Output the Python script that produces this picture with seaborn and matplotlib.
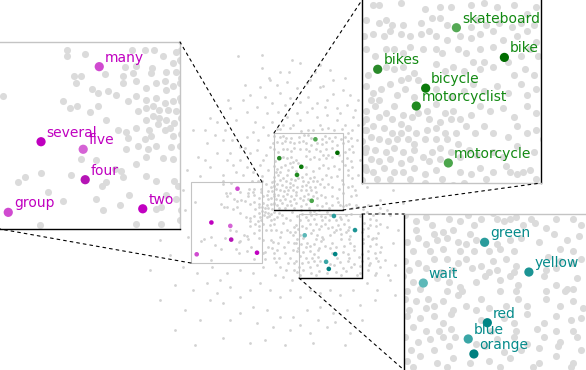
import matplotlib
matplotlib.use("Agg")
import matplotlib.pyplot as plt
from matplotlib.patches import Rectangle, ConnectionPatch
import pandas as pd
import seaborn as sns

# ---------------------------------------------------------------- data
# background embedding cloud (2-D coordinates)
cloud_pts = [
    # around the "numbers" cluster
    (223, 181), (223, 184), (231, 183), (252, 181), (258, 181), (262, 181), (272, 182), (266, 184), (270.5, 187),
    (273.5, 185.6), (240, 192), (249, 189), (254, 188.6), (261, 189.4), (267.5, 191), (272, 191), (226, 193),
    (229.5, 193), (227, 196), (248, 193), (252.6, 191.6), (260.5, 191.6), (194.5, 201.7), (234.4, 198.8),
    (237, 200.5), (241.4, 199.8), (245.2, 201.3), (248, 196), (254, 195.3), (258.6, 198.3), (263, 196),
    (266.8, 195.3), (270.5, 197.6), (273.5, 196), (267.5, 199), (221.3, 204), (224.3, 207.2), (227.3, 206.5),
    (233.2, 209.2), (237, 206.5), (250.4, 204.3), (254, 202), (258.6, 203.5), (263, 202.8), (266.8, 205),
    (270.5, 204.3), (273.5, 202.8), (272, 208.7), (268.2, 208), (264.5, 208), (261.5, 206.5), (258.6, 207.2),
    (254.8, 208.7), (240.4, 212.5), (245.9, 217.2), (249.6, 218.1), (250.4, 220.7), (254, 216.2), (258.6, 212.5),
    (261.5, 211), (264.5, 211.7), (267.5, 212.5), (271.2, 214), (274.2, 211.7), (260, 217), (263.8, 214.7),
    (266.8, 217), (270.5, 219.9), (274.2, 219.2), (269, 216.2), (257.8, 221.4), (260.8, 219.9), (254.8, 224.4),
    (259.3, 225.9), (263, 224.4), (269.7, 225.1), (273.5, 224.4), (249.6, 225.9), (229.5, 230.3), (236.2, 230.6),
    (244.4, 234.8), (247.4, 235.6), (253.8, 232.6), (258.6, 229.6), (266, 230), (270.5, 230.3), (204.2, 238.5),
    (201.2, 240.8), (211.3, 236.7), (225, 237.5), (240.4, 240.8), (238.9, 242.3), (248, 238.5), (258.6, 237.8),
    (271.2, 240), (272.7, 242.3), (263, 240), (214.6, 245), (236.2, 248.5), (246.6, 251.2), (251, 246.7),
    (267.5, 246.7), (272, 248.2), (265.3, 251.9), (263, 252.7), (221.3, 249), (239.2, 253.4), (210.9, 260.1),
    (254, 259.4), (265.3, 259.4), (273.5, 257.9), (274.2, 253.4),
    # around the "vehicles" cluster
    (277, 129), (280, 129), (290, 128), (301, 131), (308, 130), (313, 130), (322, 129), (328, 128), (334, 130),
    (342, 129), (348, 133), (352, 130), (274, 136), (280, 137), (283, 136), (286, 138), (291, 138), (299, 137),
    (304, 135), (308, 135), (311, 138), (322, 139), (325, 136), (329, 138), (335, 137), (341, 139), (345, 137),
    (351, 138), (273, 143), (277, 142), (282, 143), (285, 141), (290, 142), (294, 143), (299, 142), (303, 141),
    (306, 143), (311, 145), (317, 143), (322, 144), (326, 142), (332, 141), (337, 145), (343, 143), (348, 141),
    (352, 146), (274, 149), (278, 152), (283, 149), (287, 149), (291, 151), (294, 148), (300, 149), (306, 149),
    (309, 151), (316, 149), (320, 151), (326, 149), (332, 148), (328, 155), (345, 152), (349, 149), (353, 152),
    (275, 161), (283, 157), (287, 158), (291, 157), (296, 160), (306, 156), (310, 159), (314, 157), (319, 159),
    (323, 155), (326, 158), (332, 157), (339, 155), (342, 161), (347, 158), (351, 161), (290, 163), (293, 162),
    (298, 163), (274, 166), (277, 169), (281, 167), (285, 165), (288, 170), (292, 167), (296, 171), (306, 167),
    (313, 171), (319, 168), (323, 165), (328, 168), (334, 166), (339, 169), (345, 165), (348, 170), (352, 167),
    (280, 172), (276, 172), (274, 177), (278, 175), (283, 178), (287, 175), (291, 179), (302, 177), (306, 174),
    (310, 178), (314, 177), (317, 181), (322, 179), (326, 175), (331, 177), (337, 176), (342, 180), (348, 175),
    (352, 178), (274, 181), (280, 180), (286, 181), (290, 183), (295, 180), (298, 178), (303, 181), (308, 182),
    (313, 181), (274, 186), (277, 184), (282, 185), (286, 187), (290, 187), (293, 185), (297, 187), (302, 186),
    (306, 185), (310, 187), (315, 187), (320, 184), (324, 187), (328, 184), (332, 187), (339, 189), (343, 184),
    (348, 187), (352, 186), (276, 189), (280, 190), (284, 191), (288, 190), (293, 190), (296, 192), (301, 190),
    (306, 190), (311, 190), (316, 192), (274, 194), (278, 195), (283, 196), (287, 194), (291, 196), (296, 195),
    (300, 198), (304, 196), (308, 194), (313, 196), (317, 198), (321, 195), (325, 197), (332, 196), (337, 198),
    (343, 193), (351, 196), (276, 199), (280, 200), (285, 199), (290, 201), (294, 199), (303, 200), (308, 199),
    (274, 204), (277, 205), (282, 203), (287, 205), (291, 205), (296, 203), (301, 206), (306, 204), (317, 205),
    (322, 206), (326, 203), (332, 205), (338, 202), (343, 206), (349, 204), (352, 208), (279, 208), (285, 208),
    (294, 208), (309, 208), (329, 208),
    # around the "colours" cluster
    (340, 205), (346, 205), (356, 205), (363, 209), (368, 205), (376, 205), (380, 208), (301, 210), (310, 212),
    (314, 211), (319, 210), (327, 212), (297, 216), (302, 214), (306, 217), (311, 215), (316, 214), (321, 216),
    (325, 217), (330, 215), (340, 217), (346, 215), (351, 214), (360, 216), (367, 212), (373, 215), (379, 213),
    (300, 220), (308, 220), (314, 219), (322, 220), (329, 220), (336, 220), (341, 219), (348, 220), (370, 219),
    (376, 220), (296, 225), (302, 226), (310, 224), (316, 224), (321, 226), (325, 224), (332, 227), (338, 225),
    (344, 224), (349, 227), (364, 223), (370, 225), (376, 226), (380, 224), (298, 229), (306, 228), (313, 230),
    (319, 229), (328, 228), (336, 230), (340, 229), (348, 230), (363, 229), (368, 228), (295, 232), (300, 235),
    (311, 233), (317, 235), (322, 237), (330, 235), (334, 232), (341, 234), (346, 232), (350, 236), (362, 232),
    (368, 236), (373, 238), (378, 233), (297, 239), (303, 238), (316, 239), (323, 239), (341, 239), (349, 239),
    (363, 239), (372, 239), (376, 238), (296, 243), (301, 244), (307, 243), (314, 244), (321, 241), (325, 246),
    (332, 243), (336, 247), (344, 246), (350, 243), (354, 246), (363, 243), (370, 246), (376, 244), (381, 247),
    (298, 248), (306, 247), (310, 246), (319, 248), (297, 251), (303, 252), (310, 251), (314, 254), (318, 250),
    (330, 248), (332, 253), (343, 252), (348, 254), (354, 250), (362, 254), (368, 251), (375, 253), (380, 252),
    (300, 256), (306, 258), (312, 258), (318, 257), (337, 258), (349, 258), (359, 257), (368, 258), (376, 258),
    (296, 261), (302, 263), (308, 262), (314, 261), (320, 261), (330, 264), (340, 262), (348, 261), (354, 264),
    (362, 261), (370, 263), (378, 261), (299, 267), (310, 267), (317, 265), (334, 265), (343, 268), (351, 267),
    (360, 266), (369, 265), (380, 267), (297, 272), (303, 270), (311, 273), (319, 271), (327, 273), (336, 272),
    (346, 271), (360, 273), (368, 270), (376, 273), (300, 275), (316, 275), (341, 275), (357, 275), (375, 275),
    # rest of the cloud
    (238, 56), (262, 55), (300, 63), (320, 65), (289, 72), (269, 78), (270, 80), (310, 80), (323, 86), (260, 87),
    (277, 85), (287, 82), (297, 88), (307, 83), (320, 87), (333, 80), (343, 90), (333, 94), (265, 97), (272, 103),
    (280, 93), (290, 98), (300, 102), (308, 97), (317, 103), (327, 100), (337, 108), (347, 105), (353, 117),
    (355, 110), (247, 112), (257, 107), (267, 113), (278, 112), (287, 117), (297, 113), (307, 112), (317, 117),
    (327, 115), (337, 120), (345, 125), (217, 122), (255, 122), (263, 127), (272, 122), (283, 125), (293, 125),
    (320, 125), (223, 140), (230, 153), (240, 147), (247, 137), (253, 132), (258, 140), (268, 135), (240, 160),
    (250, 153), (257, 150), (263, 160), (270, 147), (233, 165), (247, 167), (253, 172), (262, 176), (268, 170),
    (217, 153), (210, 167), (223, 175), (200, 176), (193, 130), (207, 143), (198, 157), (187, 170), (183, 190),
    (185, 210), (188, 237), (183, 267), (197, 273), (212, 267), (227, 273), (240, 270), (253, 273), (263, 267),
    (220, 280), (355, 190), (358, 207), (367, 187), (380, 200), (393, 190), (387, 210), (403, 203), (387, 227),
    (393, 243), (367, 283), (377, 290), (277, 217), (283, 223), (290, 220), (294, 227), (276, 230), (280, 237),
    (288, 242), (293, 235), (277, 250), (285, 253), (293, 250), (280, 267), (288, 263), (294, 270), (275, 275),
    (283, 277), (292, 280), (282, 215), (292, 212), (287, 230), (294, 243), (276, 262), (193, 290), (207, 283),
    (217, 293), (230, 287), (240, 297), (250, 290), (260, 283), (270, 290), (280, 297), (290, 290), (300, 297),
    (310, 290), (320, 293), (330, 290), (340, 295), (353, 290), (223, 303), (240, 313), (253, 307), (267, 310),
    (280, 317), (293, 317), (307, 310), (320, 307), (333, 313), (347, 310), (257, 323), (273, 327), (290, 330),
    (310, 333), (327, 327), (223, 338), (250, 343), (350, 333), (313, 343),
    (250, 95), (243, 100), (230, 108), (236, 120), (225, 130), (262, 68), (280, 72), (292, 60), (315, 72),
    (330, 70), (345, 78), (350, 95), (358, 100), (358, 125), (245, 85), (285, 105), (300, 120), (312, 108),
    (325, 107), (340, 113), (228, 100), (210, 118), (205, 130), (160, 240), (170, 255), (150, 270), (175, 285),
    (160, 300), (185, 310), (200, 320), (175, 330), (210, 300), (230, 320), (195, 345), (265, 340), (285, 345),
    (300, 325), (318, 320), (335, 322), (345, 345), (360, 305), (362, 320), (375, 300), (390, 280), (395, 295),
    (279, 213), (286, 218), (290, 232), (278, 243), (284, 247), (290, 258), (279, 258), (286, 270), (294, 263),
    (281, 232), (215, 135), (232, 140), (245, 148), (236, 172), (227, 160), (260, 165), (266, 155), (243, 175),
    (205, 160), (357, 140), (360, 160), (358, 175), (356, 195), (390, 215), (398, 230), (385, 260), (395, 265),
    (388, 275),
]

# highlighted words: "numbers / quantities" group
num_words = ["many", "several", "five", "four", "group", "two"]
num_x = [237.5, 211.4, 230.3, 231.2, 196.7, 257.0]
num_y = [188.7, 222.5, 225.9, 239.6, 254.3, 252.7]
num_colors = ["#d04ad0", "#bf00bf", "#d563d5", "#b514b5", "#d04ad0", "#c100c1"]

# highlighted words: "vehicles" group
veh_words = ["skateboard", "bike", "bikes", "bicycle", "motorcyclist", "motorcycle"]
veh_x = [315.4, 337.4, 279.3, 301.3, 297.0, 311.7]
veh_y = [139.3, 152.8, 158.2, 166.8, 174.9, 200.8]
veh_colors = ["#55a955", "#006c00", "#2a8a2a", "#0b7a0b", "#1f8a1f", "#4ca64c"]

# highlighted words: "colours" group
col_words = ["green", "yellow", "wait", "red", "blue", "orange"]
col_x = [333.9, 355.0, 304.7, 335.2, 326.1, 328.8]
col_y = [216.0, 230.1, 235.3, 254.1, 261.8, 268.9]
col_colors = ["#2a9c9c", "#1c9494", "#5cb8b8", "#008484", "#3aa6a6", "#008080"]

# ---------------------------------------------------------------- layout
W, H = 586, 370
GRAY_MAIN = "#d2d2d2"
GRAY_INSET = "#dbdbdb"
EDGE_GRAY = "#c4c4c4"

groups = [
    dict(words=num_words, x=num_x, y=num_y, colors=num_colors, text="#c000c0",
         region=(191, 182, 262, 263), box=(0, 42, 180, 229),
         xlim=(193.0, 273.7), ylim=(261.8, 177.6),
         spines=dict(top=EDGE_GRAY, right=EDGE_GRAY, bottom="black", left=None),
         black_edges=[], links=[((262, 182), (1, 1)), ((191, 263), (0, 0))]),
    dict(words=veh_words, x=veh_x, y=veh_y, colors=veh_colors, text="#138a13",
         region=(274, 133, 343, 210), box=(362, 0, 541, 183),
         xlim=(272.1, 354.2), ylim=(209.9, 126.7),
         spines=dict(top=None, right="black", bottom=EDGE_GRAY, left="black"),
         black_edges=["bottom"], links=[((274, 133), (0, 1)), ((343, 210), (1, 0))]),
    dict(words=col_words, x=col_x, y=col_y, colors=col_colors, text="#058b8b",
         region=(299, 214, 362, 278), box=(404, 214, 586, 370),
         xlim=(295.5, 382.2), ylim=(276.5, 202.6),
         spines=dict(top=EDGE_GRAY, right=None, bottom=None, left="black"),
         black_edges=["right", "bottom"], links=[((362, 214), (0, 1)), ((299, 278), (0, 0))]),
]

sns.set_style("white")
plt.rcParams["font.family"] = ["DejaVu Sans"]

cloud = pd.DataFrame(cloud_pts, columns=["x", "y"])

fig = plt.figure(figsize=(W / 100, H / 100), dpi=100)
ax = fig.add_axes([0, 0, 1, 1])
sns.scatterplot(data=cloud, x="x", y="y", color=GRAY_MAIN, s=4, linewidth=0, ax=ax, zorder=1)
for g in groups:
    sns.scatterplot(x=g["x"], y=g["y"], hue=g["words"], palette=dict(zip(g["words"], g["colors"])),
                    s=11, linewidth=0, legend=False, ax=ax, zorder=3)
    x0, y0, x1, y1 = g["region"]
    ax.add_patch(Rectangle((x0, y0), x1 - x0, y1 - y0, fill=False, ec=EDGE_GRAY, lw=0.8, zorder=2))
    for side in g["black_edges"]:
        if side == "bottom":
            ax.plot([x0, x1], [y1, y1], color="black", lw=1.0, zorder=2)
        if side == "right":
            ax.plot([x1, x1], [y0, y1], color="black", lw=1.0, zorder=2)
ax.set_xlim(0, W)
ax.set_ylim(H, 0)
ax.axis("off")

for g in groups:
    bx0, by0, bx1, by1 = g["box"]
    ins = fig.add_axes([bx0 / W, 1 - by1 / H, (bx1 - bx0) / W, (by1 - by0) / H])
    ins.set_facecolor("white")
    sns.scatterplot(data=cloud, x="x", y="y", color=GRAY_INSET, s=26, linewidth=0, ax=ins)
    sns.scatterplot(x=g["x"], y=g["y"], hue=g["words"], palette=dict(zip(g["words"], g["colors"])),
                    s=44, linewidth=0, legend=False, ax=ins, zorder=3)
    for w, px, py in zip(g["words"], g["x"], g["y"]):
        ins.annotate(w, (px, py), xytext=(4, 1.5), textcoords="offset points",
                     ha="left", va="bottom", fontsize=10, color=g["text"], zorder=4)
    ins.set_xlim(*g["xlim"])
    ins.set_ylim(*g["ylim"])
    ins.set_xticks([])
    ins.set_yticks([])
    ins.set_xlabel("")
    ins.set_ylabel("")
    for side, col in g["spines"].items():
        if col is None:
            ins.spines[side].set_visible(False)
        else:
            ins.spines[side].set_color(col)
            ins.spines[side].set_linewidth(1.0)
    for (mx, my), corner in g["links"]:
        con = ConnectionPatch(xyA=(mx, my), coordsA=ax.transData, xyB=corner, coordsB=ins.transAxes,
                              color="black", lw=0.8, linestyle=(0, (2.5, 3.5)))
        fig.add_artist(con)

fig.savefig("out.png", dpi=100)
